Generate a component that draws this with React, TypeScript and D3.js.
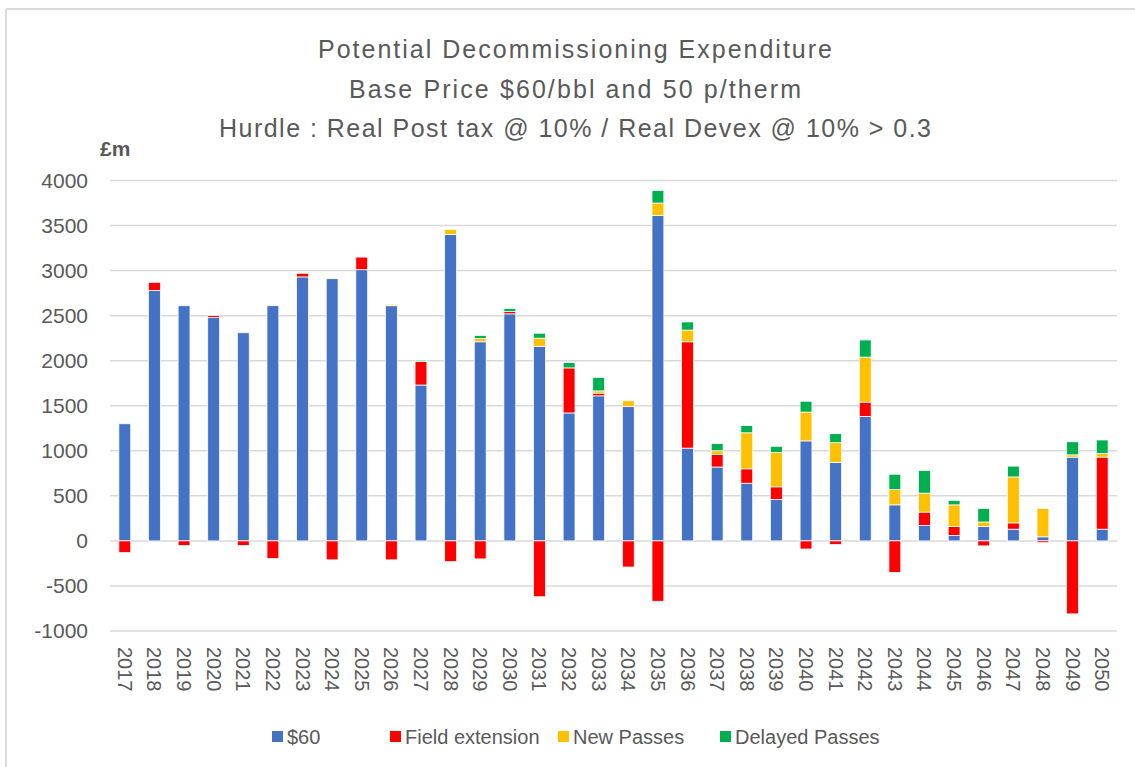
import React from "react";
import * as d3 from "d3";

const years = [
  "2017","2018","2019","2020","2021","2022","2023","2024","2025","2026",
  "2027","2028","2029","2030","2031","2032","2033","2034","2035","2036",
  "2037","2038","2039","2040","2041","2042","2043","2044","2045","2046",
  "2047","2048","2049","2050",
];
const base60 = [1300,2780,2610,2480,2310,2610,2930,2910,3010,2610,1730,3400,2210,2520,2160,1420,1610,1490,3610,1030,820,640,460,1110,870,1380,400,170,60,160,130,45,930,130];
const fieldExtension = [-130,90,-50,20,-50,-195,40,-210,140,-210,260,-230,-200,25,-620,500,30,-290,-670,1180,140,160,140,-90,-40,160,-350,150,100,-55,70,-20,-810,800];
const newPasses = [0,0,0,0,0,0,0,0,0,15,0,55,35,0,90,0,25,65,140,130,40,400,380,320,220,500,170,210,240,50,510,315,25,40];
const delayedPasses = [0,0,0,0,0,0,0,0,0,0,15,0,35,35,55,60,150,0,140,90,80,80,70,120,100,190,170,250,50,150,120,0,145,150];

const seriesNames = ["$60", "Field extension", "New Passes", "Delayed Passes"];
const seriesColors = ["#4472C4", "#FF0000", "#FFC000", "#00B050"];
const yTicks = [-1000, -500, 0, 500, 1000, 1500, 2000, 2500, 3000, 3500, 4000];
const titleLines = [
  "Potential Decommissioning Expenditure",
  "Base Price $60/bbl and 50 p/therm",
  "Hurdle : Real Post tax @ 10% / Real Devex @ 10% > 0.3",
];
const titleWidths = [514, 452, 712];

export default function App() {
  const W = 1135, H = 767;
  const left = 110, right = 1117, top = 180.5, bottom = 631;
  const keys = ["s0", "s1", "s2", "s3"];
  const rows = years.map((y, i) => ({
    year: y, s0: base60[i], s1: fieldExtension[i], s2: newPasses[i], s3: delayedPasses[i],
  }));
  const stack = d3.stack<any>().keys(keys).offset(d3.stackOffsetDiverging);
  const stacked = stack(rows);
  const x = d3.scaleBand().domain(years).range([left, right]).padding(0);
  const y = d3.scaleLinear().domain([-1000, 4000]).range([bottom, top]);
  const bw = x.step() * 0.4;
  const font = "'Liberation Sans', Arial, sans-serif";
  const gray = "#595959";

  const legendItems = [
    { x: 272, label: seriesNames[0] },
    { x: 390, label: seriesNames[1] },
    { x: 558, label: seriesNames[2] },
    { x: 720, label: seriesNames[3] },
  ];

  return (
    <svg width={W} height={H} style={{ position: "absolute", left: 0, top: 0, background: "#fff" }} fontFamily={font}>
      <rect x={0} y={0} width={W} height={H} fill="#fff" />
      <line x1={6} y1={9} x2={W} y2={9} stroke="#D9D9D9" strokeWidth={2} />
      <line x1={6} y1={9} x2={6} y2={H} stroke="#D9D9D9" strokeWidth={2} />
      {titleLines.map((t, i) => (
        <text key={i} x={575 - titleWidths[i] / 2} y={58 + i * 39.5} fontSize={25} fill={gray}
          textLength={titleWidths[i]} lengthAdjust="spacing">{t}</text>
      ))}
      <text x={100} y={156} fontSize={21} fontWeight="bold" fill={gray}>£m</text>
      {yTicks.map((t) => (
        <g key={t}>
          <line x1={left} x2={right} y1={y(t)} y2={y(t)} stroke="#D9D9D9" strokeWidth={1.5} />
          <text x={88} y={y(t)} dy="0.35em" textAnchor="end" fontSize={21} fill={gray}>{t}</text>
        </g>
      ))}
      {stacked.map((layer, li) => (
        <g key={li} fill={seriesColors[li]}>
          {layer.map((d, i) => {
            const y0 = y(d[0]), y1 = y(d[1]);
            const h = Math.abs(y0 - y1);
            if (h < 0.01) return null;
            return (
              <rect key={i} x={(x(years[i]) as number) + x.step() / 2 - bw / 2} y={Math.min(y0, y1)} width={bw} height={h} stroke="#fff" strokeWidth={0.75} />
            );
          })}
        </g>
      ))}
      {years.map((yr) => (
        <text key={yr} transform={`translate(${(x(yr) as number) + x.step() / 2},647) rotate(90)`} dy="0.35em" fontSize={20} fill={gray}>{yr}</text>
      ))}
      {legendItems.map((it, i) => (
        <g key={i}>
          <rect x={it.x} y={731} width={11} height={11} fill={seriesColors[i]} />
          <text x={it.x + 15} y={737} dy="0.35em" fontSize={20} fill={gray}>{it.label}</text>
        </g>
      ))}
    </svg>
  );
}
